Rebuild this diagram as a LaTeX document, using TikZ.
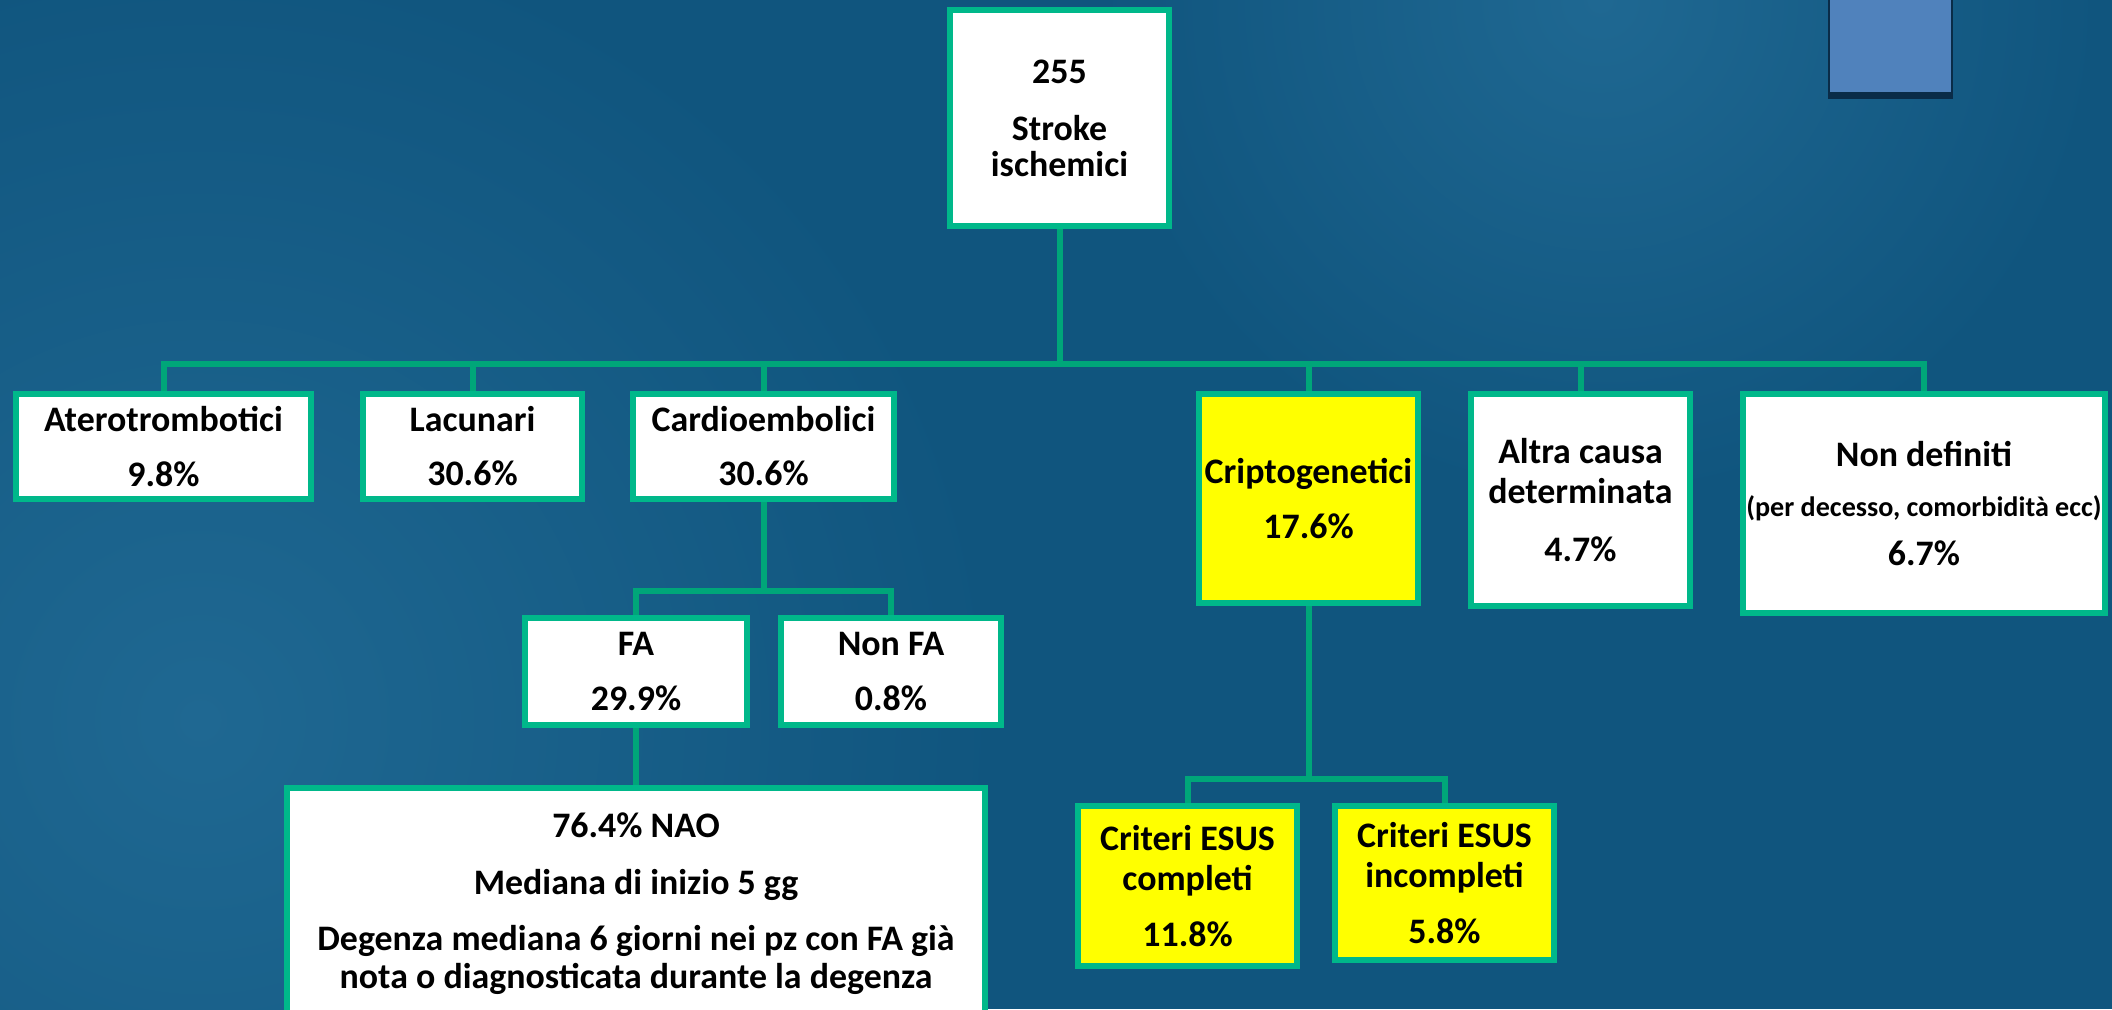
\documentclass[tikz,border=0pt]{standalone}
\usepackage{fontspec}
\setmainfont{Carlito}
\usepackage{tikz}

\definecolor{bgblue}{RGB}{16,85,126}
\definecolor{bglight}{RGB}{31,104,146}
\definecolor{boxgreen}{RGB}{0,184,138}
\definecolor{linegreen}{RGB}{0,166,121}
\definecolor{tabblue}{RGB}{80,130,188}
\definecolor{tabdark}{RGB}{10,44,72}
\definecolor{hiyellow}{RGB}{255,255,0}

\begin{document}
\begin{tikzpicture}
    [x = 0.01cm, y = -0.01cm,
     every node/.style = {rectangle, draw = boxgreen, line width = 0.06cm, fill = white, align = center, inner sep = 0pt, font = \fontsize{10.2}{11.4}\selectfont\bfseries},
     crit/.style = {fill = hiyellow},
     conn/.style = {draw = linegreen, line width = 0.06cm}]
    \clip (0,0) rectangle (2112,1009);
    \fill[bgblue] (0,0) rectangle (2112,1009);
    \shade[inner color = bglight, outer color = bgblue] (200,720) circle (8cm);
    \shade[inner color = bglight, outer color = bgblue] (1600,0) circle (5cm);
    \fill[tabdark] (1828,-5) rectangle (1953,99);
    \fill[tabblue] (1830,-5) rectangle (1951,92);

    \node[minimum width = 2.19cm, minimum height = 2.16cm] (root) at (1059.5,118) {255\\[1.7mm]Stroke\\[-0.4mm]ischemici};
    \node[minimum width = 2.95cm, minimum height = 1.05cm] (atero) at (163.5,446.5) {Aterotrombotici\\[1.4mm]9.8\%};
    \node[minimum width = 2.19cm, minimum height = 1.05cm] (lacu) at (472.5,446.5) {Lacunari\\[1.4mm]30.6\%};
    \node[minimum width = 2.61cm, minimum height = 1.05cm] (cardio) at (763.5,446.5) {Cardioembolici\\[1.4mm]30.6\%};
    \node[crit, minimum width = 2.19cm, minimum height = 2.09cm] (cripto) at (1308.5,498.5) {Criptogenetici\\[1.5mm]17.6\%};
    \node[minimum width = 2.19cm, minimum height = 2.12cm] (altra) at (1580.5,500) {Altra causa\\determinata\\[1.7mm]4.7\%};
    \node[minimum width = 3.62cm, minimum height = 2.19cm] (nondef) at (1924,503.5) {Non definiti\\[1mm]{\fontsize{8}{11.4}\selectfont (per decesso, comorbidità ecc)}\\[0.9mm]6.7\%};
    \node[minimum width = 2.22cm, minimum height = 1.07cm] (fa) at (636,671.5) {FA\\[1.5mm]29.9\%};
    \node[minimum width = 2.20cm, minimum height = 1.07cm] (nonfa) at (891,671.5) {Non FA\\[1.5mm]0.8\%};
    \node[minimum width = 6.98cm, minimum height = 2.34cm] (nao) at (636,905) {\raisebox{0.6mm}{\begin{tabular}{@{}c@{}}76.4\% NAO\\[1.7mm]Mediana di inizio 5 gg\\[1.5mm]Degenza mediana 6 giorni nei pz con FA già\\[-0.2mm]nota o diagnosticata durante la degenza\end{tabular}}};
    \node[crit, minimum width = 2.19cm, minimum height = 1.60cm] (esus1) at (1187.5,886) {Criteri ESUS\\completi\\[1.5mm]11.8\%};
    \node[crit, minimum width = 2.19cm, minimum height = 1.54cm] (esus2) at (1444.5,883) {Criteri ESUS\\incompleti\\[1.5mm]5.8\%};

    \foreach \from/\to/\drop in {root/atero/135, root/lacu/135, root/cardio/135, root/cripto/135, root/altra/135, root/nondef/135, cardio/fa/89, cardio/nonfa/89, fa/nao/28, cripto/esus1/173, cripto/esus2/173}
      \draw[conn] (\from.south) -- ++(0,\drop) -| (\to.north);
\end{tikzpicture}
\end{document}
